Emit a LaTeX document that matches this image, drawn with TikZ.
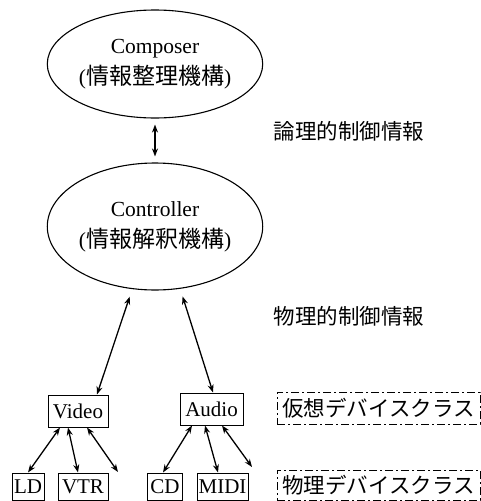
\documentclass[tikz,border=0pt]{standalone}
\usepackage{fontspec}
\setmainfont{Liberation Serif}
\newfontfamily\jp{Noto Sans CJK JP}
\usetikzlibrary{shapes.geometric,arrows.meta,calc}
\begin{document}
\begin{tikzpicture}[x=1pt,y=-1pt,
  ell/.style={draw,ellipse,line width=1.1pt,inner sep=0pt,align=center,font=\fontsize{21.5}{31}\selectfont},
  dev/.style={draw,line width=1pt,inner sep=0pt,minimum height=27pt,font=\fontsize{21}{21}\selectfont},
  cls/.style={draw,line width=1pt,dash pattern=on 8pt off 3pt on 2pt off 3pt,inner sep=0pt,minimum width=203pt,minimum height=32pt,font=\jp\fontsize{21.5}{21.5}\selectfont},
  lbl/.style={inner sep=0pt,font=\jp\fontsize{21.5}{21.5}\selectfont},
  link/.style={line width=1.3pt,{Stealth[length=8pt,width=6pt]}-{Stealth[length=8pt,width=6pt]}}]
\useasboundingbox (0,0) rectangle (481,501);
\fill[white] (0,0) rectangle (481,501);

\node[ell,minimum width=184pt,minimum height=108pt] (comp) at (155,64)
  {Composer\\({\jp\fontsize{23}{23}\selectfont 情報整理機構})};
\node[ell,minimum width=184pt,minimum height=127pt] (ctrl) at (155,226.5)
  {Controller\\({\jp\fontsize{23}{23}\selectfont 情報解釈機構})};

\node[lbl] (logic) at (349,131) {論理的制御情報};
\node[lbl] (phys) at (349,316) {物理的制御情報};

\node[dev,minimum width=60pt,minimum height=32pt] (video) at (78,411) {Video};
\node[dev,minimum width=63pt,minimum height=32pt] (audio) at (211.5,409) {Audio};

\node[dev,minimum width=32pt] (ld) at (28,486.5) {LD};
\node[dev,minimum width=50pt] (vtr) at (83,486.5) {VTR};
\node[dev,minimum width=35pt] (cd) at (165,486.5) {CD};
\node[dev,minimum width=51pt] (midi) at (222.5,486.5) {MIDI};

\node[cls] (vclass) at (378.5,408) {仮想デバイスクラス};
\node[cls,minimum height=30pt] (pclass) at (378.5,485) {物理デバイスクラス};

\coordinate (vfree) at (118,472);
\coordinate (afree) at (252,467);

\draw[link,shorten <=6pt,shorten >=6pt] (comp.south) -- (ctrl.north);
\draw[link,shorten <=8pt] (ctrl.250) -- ($(video.north)+(19,0)$);
\draw[link,shorten <=8pt] (ctrl.292) -- ($(audio.north)+(1.5,0)$);

\draw[link] ($(video.south)+(-18,0)$) -- (ld.north);
\draw[link] ($(video.south)+(-10,0)$) -- ($(vtr.north)+(-5,0)$);
\draw[link] ($(video.south)+(9,0)$) -- (vfree);

\draw[link] ($(audio.south)+(-19.5,0)$) -- ($(cd.north)+(-2,0)$);
\draw[link] ($(audio.south)+(-6.5,0)$) -- ($(midi.north)+(-4.5,0)$);
\draw[link] ($(audio.south)+(10.5,0)$) -- (afree);
\end{tikzpicture}
\end{document}
